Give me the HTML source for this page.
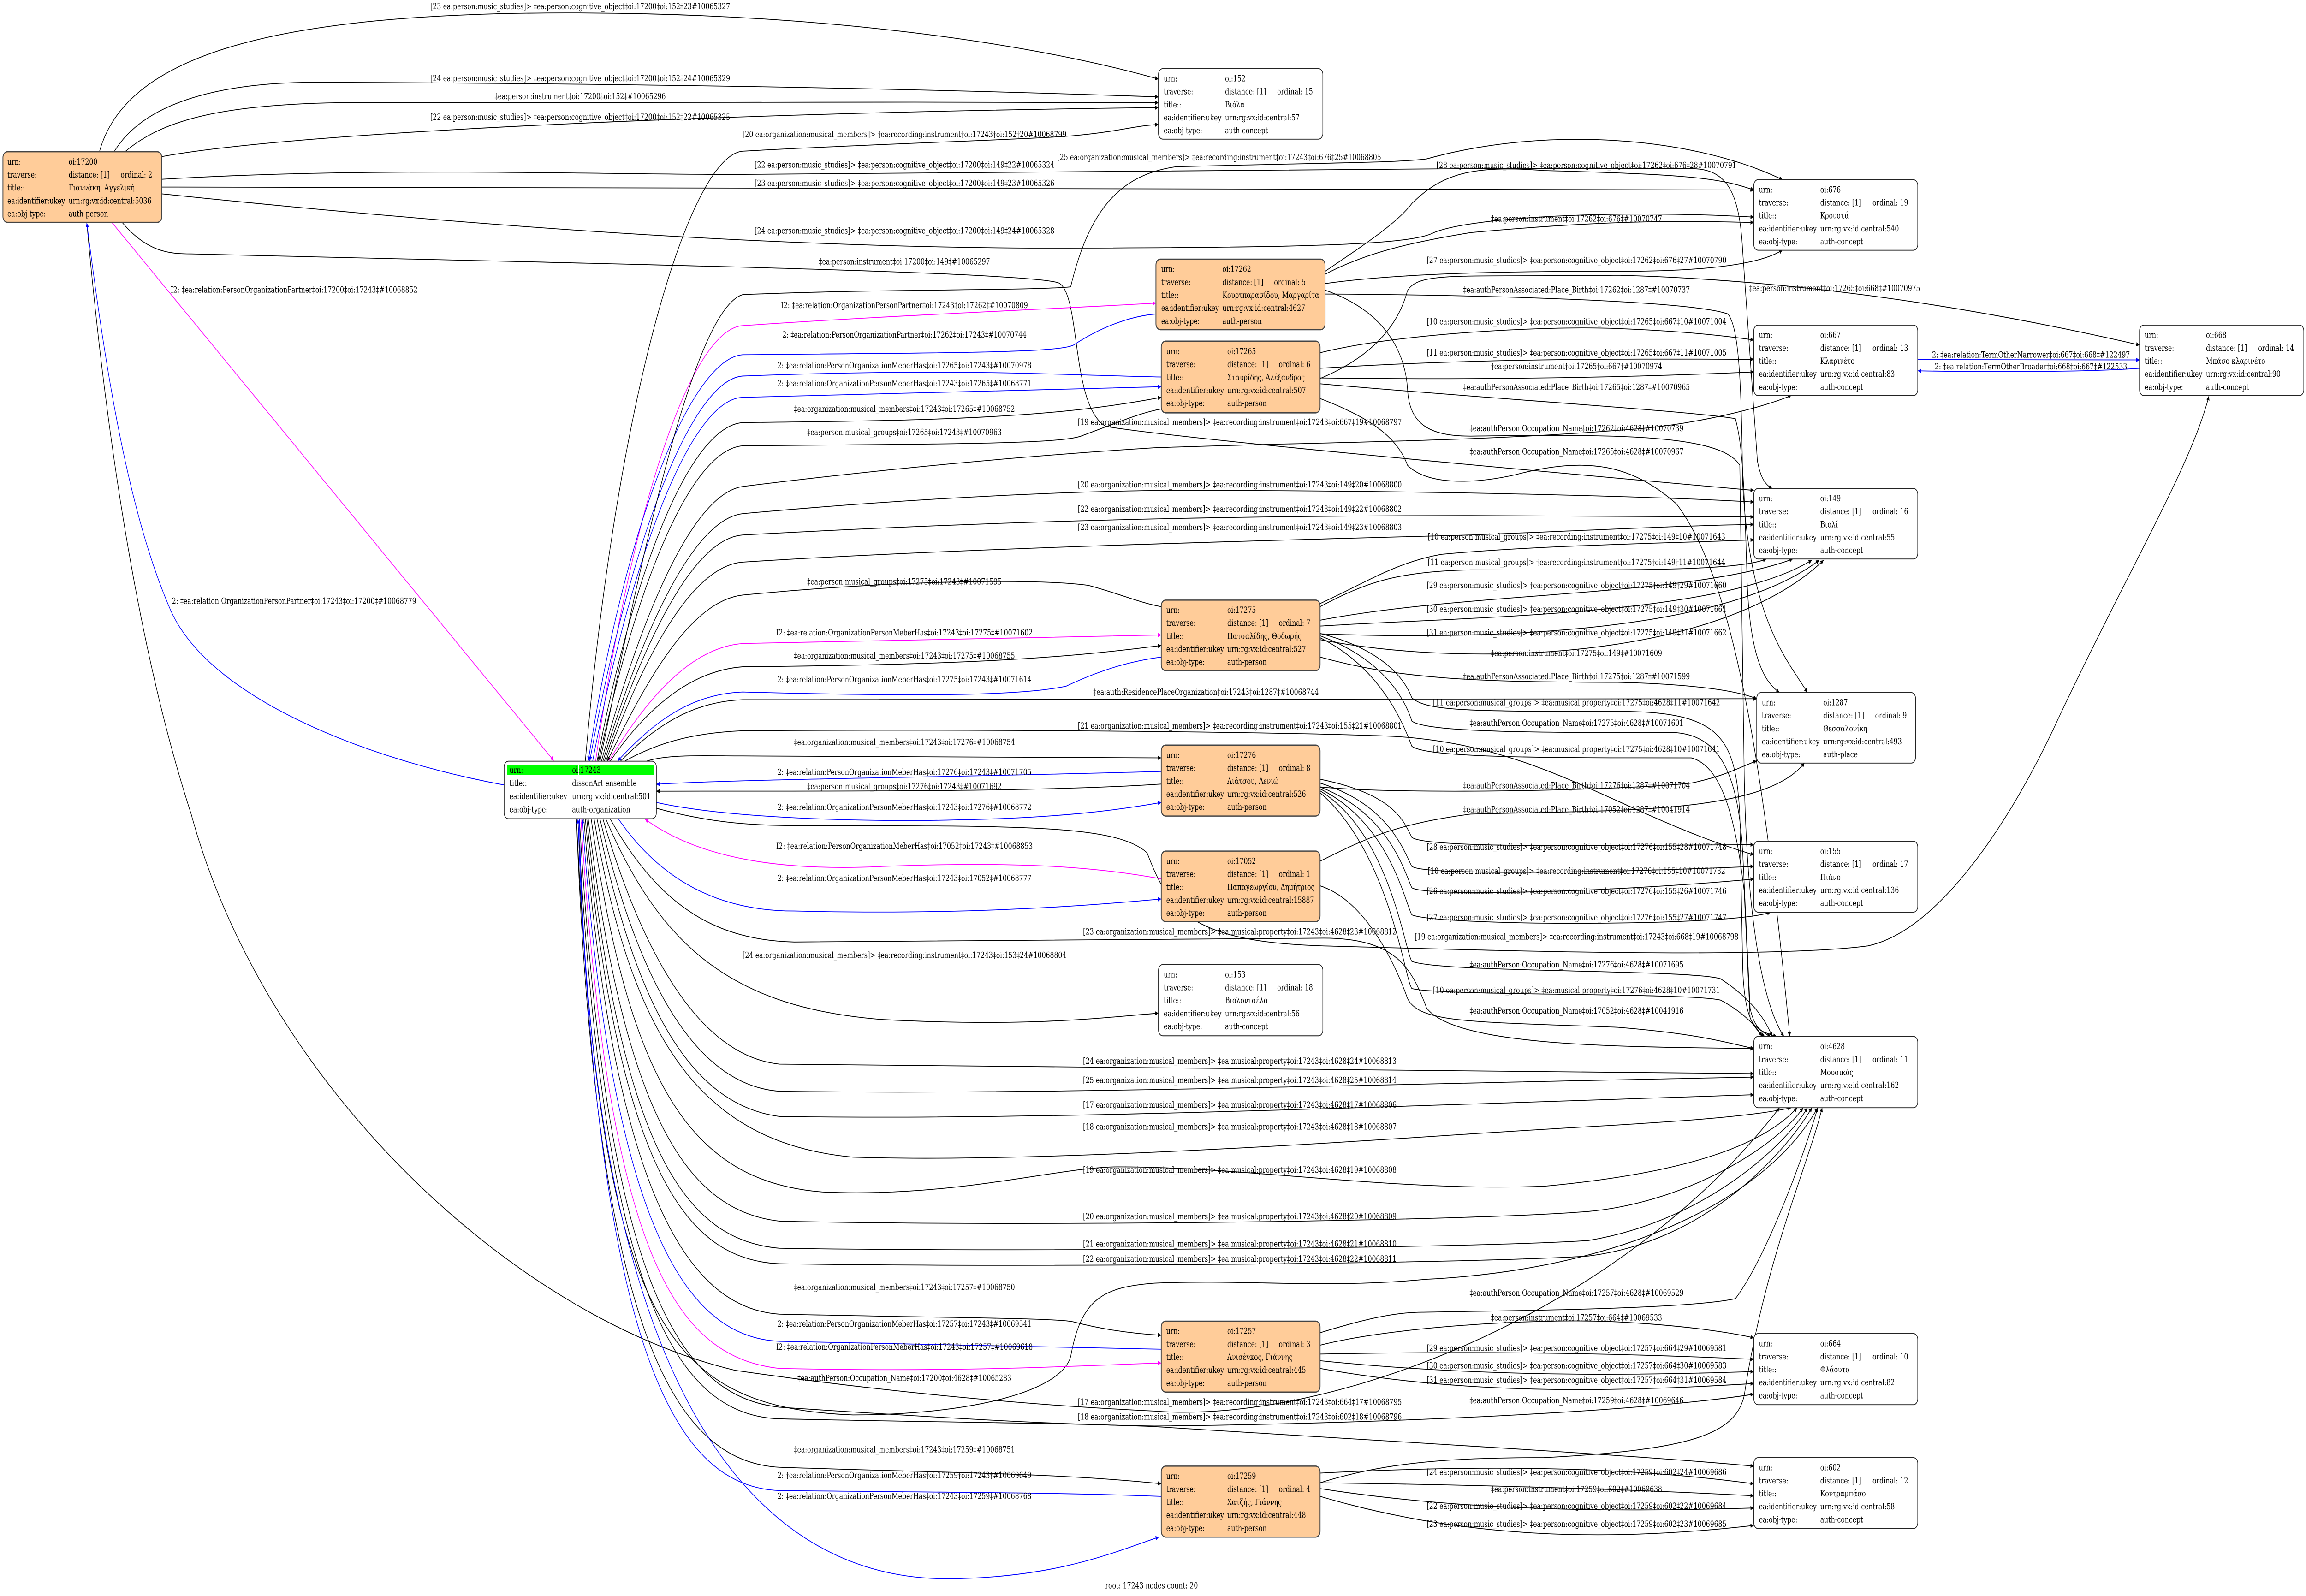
<!DOCTYPE html>
<html><head><meta charset="utf-8"><style>
html,body{margin:0;padding:0;background:#fff;width:100%;height:100%;overflow:hidden}
svg{display:block;position:fixed;left:0;top:0;width:100%;height:100%}
text{font-family:"DejaVu Serif","Liberation Serif",serif;font-size:44px;fill:#000}
.l text{text-anchor:middle}
path{fill:none;stroke:#000;stroke-width:0.42}
.b{stroke:#0000ff}
.m{stroke:#ff00ff}
.o{fill:#ffcc99;stroke:#444;stroke-width:0.6}
.w{fill:#fff;stroke:#222;stroke-width:0.45}
</style></head><body>
<svg width="100%" height="100%" viewBox="0 0 1568 823.4" preserveAspectRatio="none" xmlns="http://www.w3.org/2000/svg">
<defs>
<marker id="k" viewBox="0 0 10 10" refX="10" refY="5" markerWidth="2.6" markerHeight="2.2" markerUnits="userSpaceOnUse" orient="auto-start-reverse"><path d="M0,0L10,5L0,10z" style="fill:#000;stroke:none"/></marker>
<marker id="bl" viewBox="0 0 10 10" refX="10" refY="5" markerWidth="2.6" markerHeight="2.2" markerUnits="userSpaceOnUse" orient="auto-start-reverse"><path d="M0,0L10,5L0,10z" style="fill:#0000ff;stroke:none"/></marker>
<marker id="mg" viewBox="0 0 10 10" refX="10" refY="5" markerWidth="2.6" markerHeight="2.2" markerUnits="userSpaceOnUse" orient="auto-start-reverse"><path d="M0,0L10,5L0,10z" style="fill:#ff00ff;stroke:none"/></marker>
</defs>
<rect width="1568" height="823.4" fill="#fff"/>

<g marker-end="url(#k)">
<path d="M67.6,78.3 C85,30 180,6 394,6.7 C560,7 700,22 787.7,40.8"/>
<path d="M77.6,78.3 C100,50 160,42 220,42.5 C400,43 600,45 787.7,50"/>
<path d="M85,78.3 C110,62 150,54 230,53 C400,52.5 600,52.5 787.7,53"/>
<path d="M110,80.8 C200,68 500,58 787.7,55.5"/>
<path d="M110,92.5 C250,86 400,90 500,90 C650,89 800,87 1000,87 L1150,87 C1175,87 1183,100 1185,130 L1195,238 C1197,246 1200,250 1205,252"/>
<path d="M110,96.5 L1192.5,98"/>
<path d="M110,100 C300,115 500,127 700,128 C900,128 960,126 975,120 C1000,112 1100,108 1192.5,112"/>
<path d="M83,114.7 C100,130 115,131 130,131 C400,136 700,140 720,146 C735,152 728,210 752,220 C800,226 1000,240 1192.5,253"/>
<path d="M59,114.7 C75,250 100,350 130,420 C180,560 350,680 500,707 C600,718 700,725 785,728 C900,735 1100,680 1210,571.5"/>
</g>
<path class="m" marker-end="url(#mg)" d="M76,114.7 L376.5,392.4"/>
<path class="b" marker-end="url(#bl)" d="M343,405 C250,392 140,360 115,313 C85,260 70,180 59,115"/>

<path marker-end="url(#k)" d="M398,392.6 C420,200 470,80 505,78 C600,74 700,72 730,70 C760,68 770,65 787.7,64.2"/>
<path class="m" marker-end="url(#mg)" d="M405,392.6 C430,260 470,170 505,168 C600,163 700,160 786,156.4"/>
<path class="b" marker-start="url(#bl)" d="M400,392.6 C425,270 470,185 505,183 C650,182 720,182 730,178 C750,168 770,163 786,162"/>
<path class="b" marker-start="url(#bl)" d="M401,392.6 C428,280 470,196 505,194 C650,190 700,193 789.6,194.5"/>
<path class="b" marker-end="url(#bl)" d="M403,392.6 C430,285 470,206 505,205 C650,202 720,200 789.6,199.5"/>
<path marker-end="url(#k)" d="M406,392.6 C432,290 470,220 505,218 C650,217 720,215 789.6,205"/>
<path marker-start="url(#k)" d="M407,392.6 C433,300 470,232 505,230 C650,229 720,229 735,225 C760,218 775,213 789.6,211"/>
<g marker-end="url(#k)">
<path d="M408,392.6 C433,300 470,160 505,152 C600,149 700,150 728,148 C740,110 760,90 800,86 C900,84 950,84 970,82 C1050,65 1150,70 1212,92.7"/>
<path d="M409,392.6 C435,320 470,255 505,251 C600,242 700,235 785,231 C900,228 1000,228 1100,222 C1150,220 1200,210 1218,204"/>
<path d="M410,392.6 C435,330 470,268 505,265 C650,255 760,253 800,253 C1000,253 1150,257 1192.5,259"/>
<path d="M411,392.6 C436,335 470,278 505,276 C650,270 800,266 1000,266 L1192.5,266.7"/>
<path d="M412,392.6 C437,340 470,292 505,290 C650,283 850,279 1000,276 C1100,273 1150,271 1192.5,270.6"/>
</g>
<path marker-start="url(#k)" d="M413,392.6 C440,350 470,310 505,307 C600,300 700,298 740,302 C760,306 775,311 789.6,313"/>
<path class="m" marker-end="url(#mg)" d="M414,392.6 C440,360 470,334 505,332 C650,330 720,329 789.6,327.6"/>
<path marker-end="url(#k)" d="M415,392.6 C440,365 470,346 505,344 C650,343 720,340 789.6,333"/>
<path class="b" marker-start="url(#bl)" d="M420,392.6 C445,372 470,358 505,357 C650,360 700,358 725,354 C750,345 770,341 789.6,339"/>
<path marker-end="url(#k)" d="M422,392.6 C445,375 470,362 505,361 C700,360 900,360 1194.5,360.5"/>
<path marker-end="url(#k)" d="M425,392.6 C450,382 475,378 505,377 C700,376 900,378 950,380 C1050,385 1100,420 1192.5,441"/>
<path marker-end="url(#k)" d="M440,392.6 C455,389 480,390 505,390 C650,390 720,390 789.6,391"/>
<path class="b" marker-start="url(#bl)" d="M446.3,404.6 C500,402 650,401 789.6,398"/>
<path marker-start="url(#k)" d="M446.3,408.2 C550,408 700,409 789.6,404.5"/>
<path class="b" marker-end="url(#bl)" d="M446.3,414 C500,423 600,424 650,423 C720,422 760,418 789.6,414"/>
<path marker-end="url(#k)" d="M446.3,417 C490,426 520,426 560,426 C700,426 760,426 780,440 C795,470 810,486 900,488 C1000,490 1200,495 1270,488 C1320,480 1370,420 1400,370 C1450,290 1490,240 1502,204.3"/>

<path class="m" marker-start="url(#mg)" d="M438.6,422.6 C470,440 520,450 600,447 C700,444 750,448 789.6,453.4"/>
<path class="b" marker-end="url(#bl)" d="M420.6,422.6 C450,455 490,470 540,470 C650,472 730,468 789.6,463.8"/>
<g marker-end="url(#k)">
<path d="M415,422.6 C450,470 490,485 540,486 C700,484 800,484 900,484 C950,484 960,500 970,520 C990,540 1100,540 1192.5,541"/>
<path d="M412,422.6 C450,490 500,520 600,526 C700,530 750,525 787.7,522.7"/>
<path d="M410,422.6 C440,500 480,545 530,549 C700,552 900,552 1192.5,553.9"/>
<path d="M408,422.6 C435,510 475,560 530,563 C700,565 900,560 1192.5,555.7"/>
<path d="M406,422.6 C432,520 470,570 530,576 C700,578 900,572 1192.5,564.8"/>
<path d="M404,422.6 C430,540 480,590 580,597 C700,600 900,590 1000,585 C1100,580 1180,578 1218,571.5"/>
<path d="M402,422.6 C428,560 470,610 560,615 C650,618 720,602 760,602 C850,602 950,615 1050,612 C1150,605 1200,590 1222,571.5"/>
<path d="M400,422.6 C425,580 470,625 530,630 C700,633 1000,630 1080,625 C1150,620 1210,590 1226,571.5"/>
<path d="M399,422.6 C423,600 470,640 530,644 C700,646 1000,644 1080,640 C1160,630 1215,590 1229,571.5"/>
<path d="M398,422.6 C421,610 470,650 530,652 C700,654 1000,652 1080,648 C1165,640 1218,590 1232,571.5"/>
<path d="M397,422.6 C418,620 470,675 530,678 C650,680 720,680 730,682 C750,686 770,688 789.6,688.9"/>
<path d="M394,422.6 C412,660 460,720 530,726 C650,732 720,735 785,735.7 C900,735 1100,730 1192.5,719.3"/>
<path d="M393,422.6 C410,670 460,730 530,732 C650,734 720,734 785,736 C950,744 1100,750 1192.5,756.4"/>
<path d="M392,422.6 C408,680 450,726 580,730 C650,730 720,720 728,700 C735,670 750,664 785,662 C850,660 900,665 970,660 C1100,655 1200,620 1236,571.5"/>
<path d="M392,422.6 C405,690 460,754 530,757 C650,760 720,760 789.6,765.5"/>
</g>
<path class="b" marker-start="url(#bl)" d="M396,422.6 C416,640 470,690 530,692 C650,694 720,695 789.6,696.1"/>
<path class="m" marker-end="url(#mg)" d="M395,422.6 C414,650 460,700 530,706 C650,708 720,705 789.6,703.2"/>
<path class="b" marker-start="url(#bl)" d="M393,422.6 C406,700 460,767 530,769 C650,770 720,770 789.6,772"/>
<path class="b" marker-end="url(#bl)" d="M394,422.6 C400,700 500,815 645,814.5 C720,814 760,800 788,793"/>

<g marker-end="url(#k)">
<path d="M901,140 C930,125 950,115 960,105 C980,90 1000,85 1050,88 C1150,90 1170,92 1192.5,98"/>
<path d="M901,141.5 C930,130 960,125 1000,120 C1100,113 1150,114 1192.5,114.8"/>
<path d="M901,146.3 C960,140 1050,140 1100,140 C1170,140 1200,135 1212,129"/>
<path d="M901,151.7 C1000,152 1150,155 1175,162 C1183,170 1184,200 1185,250 C1190,320 1215,340 1229,357.3"/>
<path d="M897.6,195.3 C930,185 950,170 957,150 C965,140 990,143 1100,142 C1250,145 1380,165 1454.8,178"/>
<path d="M901,149.7 C940,160 955,180 957,200 C958,218 970,225 1000,225 C1100,224 1170,224 1183,240 L1186,400 C1188,480 1200,520 1213,534.7"/>
<path d="M897.6,205.6 C930,215 950,225 957,240 C970,250 1000,250 1030,245 C1080,235 1110,240 1140,260 C1180,300 1200,400 1217,534.7"/>
<path d="M897.6,182 C950,172 1050,168 1100,169.5 C1150,171 1180,174 1192.5,175.4"/>
<path d="M897.6,190 C1000,185 1100,185 1192.5,185.4"/>
<path d="M897.6,195 C1000,196 1100,195 1192.5,191.9"/>
<path d="M897.6,198 C1000,205 1150,212 1180,216 C1185,230 1186,250 1188,300 C1190,340 1200,352 1210,357.3"/>
<path d="M897.6,311.4 C930,300 950,290 980,286 C1050,281 1150,280 1192.5,278.5"/>
<path d="M897.6,313 C930,300 950,295 1000,294 C1100,294 1180,295 1201,288.4"/>
<path d="M897.6,320 C1000,305 1150,308 1219,288.4"/>
<path d="M897.6,323 C1000,318 1170,318 1232,289"/>
<path d="M897.6,327 C1000,330 1170,328 1237,289"/>
<path d="M897.6,330 C1000,345 1170,340 1240,289"/>
<path d="M897.6,339 C950,350 1000,352 1100,352 C1150,353 1180,356 1194.5,360.5"/>
<path d="M897.6,326.8 C940,335 955,350 960,360 C970,367 1000,367 1100,367 C1170,367 1180,380 1183,420 L1185,500 C1186,520 1190,530 1200,534.7"/>
<path d="M897.6,328 C940,340 955,360 960,372 C970,378 1050,378 1140,378 C1170,380 1182,400 1185,440 L1190,520 C1192,528 1196,532 1204,534.7"/>
<path d="M897.6,329 C940,345 955,375 960,385 C970,391 1050,391 1150,391 C1170,395 1180,420 1186,460 L1190,525 C1193,531 1200,533 1208,534.7"/>
<path d="M897.6,406 C950,410 1100,408 1150,404 C1175,400 1185,395 1194.5,392.6"/>
<path d="M897.6,444.3 C930,432 950,425 1000,420 C1100,418 1200,420 1227,393.6"/>
<path d="M897.6,402 C950,410 955,425 960,432 C970,438 1100,436 1192.5,435.8"/>
<path d="M897.6,404 C945,415 955,440 960,447 C970,452 1100,450 1192.5,447"/>
<path d="M897.6,406 C945,420 955,450 960,458 C970,463 1100,460 1192.5,453.5"/>
<path d="M897.6,407 C945,425 955,465 960,472 C980,478 1180,478 1203.8,470.6"/>
<path d="M897.6,408 C945,430 955,490 960,496 C980,502 1150,500 1170,505 C1190,515 1200,525 1205,534.7"/>
<path d="M897.6,409 C945,440 955,505 960,510 C980,514 1150,512 1170,516 C1185,522 1195,530 1198,534.7"/>
<path d="M897.6,457 C930,465 950,500 957,515 C965,528 1000,527 1100,530 C1150,533 1170,537 1192.5,541"/>
<path d="M897.6,687.6 C930,680 950,677 967,677 C1050,676 1150,675 1180,670 C1200,650 1225,600 1236,571.5"/>
<path d="M897.6,694 C950,684 1050,680 1100,682 C1150,684 1180,688 1192.5,690.2"/>
<path d="M897.6,698.6 C1000,697 1100,698 1192.5,701.3"/>
<path d="M897.6,702 C1000,710 1100,710 1192.5,707.6"/>
<path d="M897.6,706 C1000,720 1100,718 1192.5,713.8"/>
<path d="M897.6,765 C940,755 980,752 1050,752 C1150,748 1180,740 1186,720 C1200,650 1230,600 1239,571.5"/>
<path d="M897.6,760 C1000,756 1100,756 1192.5,765.5"/>
<path d="M897.6,765 C1000,766 1100,768 1192.5,771.7"/>
<path d="M897.6,768 C1000,780 1100,780 1192.5,778"/>
<path d="M897.6,772 C1000,795 1100,795 1192.5,787"/>
</g>
<path class="b" marker-end="url(#bl)" d="M1304,185.5 L1454.8,185.7"/>
<path class="b" marker-end="url(#bl)" d="M1454.8,190 C1420,192 1350,192 1304,191.3"/>

<rect class="o" x="2" y="78.3" width="108" height="36.4" rx="3"/>
<rect class="w" x="787.7" y="35.4" width="111.8" height="36.4" rx="3"/>
<rect class="o" x="786" y="133.7" width="115" height="36.4" rx="3"/>
<rect class="o" x="789.6" y="176" width="108" height="37" rx="3"/>
<rect class="w" x="1192.5" y="92.7" width="111.5" height="36.4" rx="3"/>
<rect class="w" x="1192.5" y="167.7" width="111.5" height="36.4" rx="3"/>
<rect class="w" x="1454.8" y="167.7" width="111.7" height="36.4" rx="3"/>
<rect class="w" x="1192.5" y="252" width="111.5" height="36.4" rx="3"/>
<rect class="o" x="789.6" y="309.6" width="108" height="36.4" rx="3"/>
<rect class="w" x="1194.5" y="357.3" width="108" height="36.4" rx="3"/>
<rect class="o" x="789.6" y="384.4" width="108" height="36.6" rx="3"/>
<rect class="w" x="342.8" y="392.7" width="103.5" height="29.7" rx="3"/>
<rect x="344.8" y="394.5" width="48.2" height="5.2" fill="#00ff00"/>
<rect x="393.8" y="394.5" width="50.8" height="5.2" fill="#00ff00"/>
<rect class="o" x="789.6" y="439.1" width="108" height="36.4" rx="3"/>
<rect class="w" x="1192.5" y="434" width="111.5" height="36.6" rx="3"/>
<rect class="w" x="787.7" y="497.6" width="111.8" height="36.8" rx="3"/>
<rect class="w" x="1192.5" y="534.7" width="111.5" height="36.8" rx="3"/>
<rect class="o" x="789.6" y="681.6" width="108" height="36.6" rx="3"/>
<rect class="w" x="1192.5" y="688" width="111.5" height="36.7" rx="3"/>
<rect class="o" x="789.6" y="756.4" width="108" height="36.6" rx="3"/>
<rect class="w" x="1192.5" y="752" width="111.5" height="36.6" rx="3"/>

<g transform="scale(0.1)">
<g class="l">
<text x="3945" y="48">[23 ea:person:music_studies]&gt; ‡ea:person:cognitive_object‡oi:17200‡oi:152‡23#10065327</text>
<text x="3945" y="419">[24 ea:person:music_studies]&gt; ‡ea:person:cognitive_object‡oi:17200‡oi:152‡24#10065329</text>
<text x="3945" y="511">‡ea:person:instrument‡oi:17200‡oi:152‡#10065296</text>
<text x="3945" y="618">[22 ea:person:music_studies]&gt; ‡ea:person:cognitive_object‡oi:17200‡oi:152‡22#10065325</text>
<text x="6150" y="708">[20 ea:organization:musical_members]&gt; ‡ea:recording:instrument‡oi:17243‡oi:152‡20#10068799</text>
<text x="8290" y="825">[25 ea:organization:musical_members]&gt; ‡ea:recording:instrument‡oi:17243‡oi:676‡25#10068805</text>
<text x="6150" y="865">[22 ea:person:music_studies]&gt; ‡ea:person:cognitive_object‡oi:17200‡oi:149‡22#10065324</text>
<text x="6150" y="960">[23 ea:person:music_studies]&gt; ‡ea:person:cognitive_object‡oi:17200‡oi:149‡23#10065326</text>
<text x="6150" y="1205">[24 ea:person:music_studies]&gt; ‡ea:person:cognitive_object‡oi:17200‡oi:149‡24#10065328</text>
<text x="6150" y="1365">‡ea:person:instrument‡oi:17200‡oi:149‡#10065297</text>
<text x="2000" y="1510">I2: ‡ea:relation:PersonOrganizationPartner‡oi:17200‡oi:17243‡#10068852</text>
<text x="2000" y="3115">2: ‡ea:relation:OrganizationPersonPartner‡oi:17243‡oi:17200‡#10068779</text>
<text x="6150" y="1589">I2: ‡ea:relation:OrganizationPersonPartner‡oi:17243‡oi:17262‡#10070809</text>
<text x="6150" y="1741">2: ‡ea:relation:PersonOrganizationPartner‡oi:17262‡oi:17243‡#10070744</text>
<text x="6150" y="1900">2: ‡ea:relation:PersonOrganizationMeberHas‡oi:17265‡oi:17243‡#10070978</text>
<text x="6150" y="1993">2: ‡ea:relation:OrganizationPersonMeberHas‡oi:17243‡oi:17265‡#10068771</text>
<text x="6150" y="2125">‡ea:organization:musical_members‡oi:17243‡oi:17265‡#10068752</text>
<text x="6150" y="2245">‡ea:person:musical_groups‡oi:17265‡oi:17243‡#10070963</text>
<text x="8430" y="2192">[19 ea:organization:musical_members]&gt; ‡ea:recording:instrument‡oi:17243‡oi:667‡19#10068797</text>
<text x="8430" y="2515">[20 ea:organization:musical_members]&gt; ‡ea:recording:instrument‡oi:17243‡oi:149‡20#10068800</text>
<text x="8430" y="2641">[22 ea:organization:musical_members]&gt; ‡ea:recording:instrument‡oi:17243‡oi:149‡22#10068802</text>
<text x="8430" y="2735">[23 ea:organization:musical_members]&gt; ‡ea:recording:instrument‡oi:17243‡oi:149‡23#10068803</text>
<text x="6150" y="3015">‡ea:person:musical_groups‡oi:17275‡oi:17243‡#10071595</text>
<text x="6150" y="3278">I2: ‡ea:relation:OrganizationPersonMeberHas‡oi:17243‡oi:17275‡#10071602</text>
<text x="6150" y="3397">‡ea:organization:musical_members‡oi:17243‡oi:17275‡#10068755</text>
<text x="6150" y="3520">2: ‡ea:relation:PersonOrganizationMeberHas‡oi:17275‡oi:17243‡#10071614</text>
<text x="8200" y="3585">‡ea:auth:ResidencePlaceOrganization‡oi:17243‡oi:1287‡#10068744</text>
<text x="8430" y="3759">[21 ea:organization:musical_members]&gt; ‡ea:recording:instrument‡oi:17243‡oi:155‡21#10068801</text>
<text x="6150" y="3844">‡ea:organization:musical_members‡oi:17243‡oi:17276‡#10068754</text>
<text x="6150" y="3998">2: ‡ea:relation:PersonOrganizationMeberHas‡oi:17276‡oi:17243‡#10071705</text>
<text x="6150" y="4072">‡ea:person:musical_groups‡oi:17276‡oi:17243‡#10071692</text>
<text x="6150" y="4179">2: ‡ea:relation:OrganizationPersonMeberHas‡oi:17243‡oi:17276‡#10068772</text>
<text x="6150" y="4380">I2: ‡ea:relation:PersonOrganizationMeberHas‡oi:17052‡oi:17243‡#10068853</text>
<text x="6150" y="4545">2: ‡ea:relation:OrganizationPersonMeberHas‡oi:17243‡oi:17052‡#10068777</text>
<text x="8430" y="4821">[23 ea:organization:musical_members]&gt; ‡ea:musical:property‡oi:17243‡oi:4628‡23#10068812</text>
<text x="10720" y="4848">[19 ea:organization:musical_members]&gt; ‡ea:recording:instrument‡oi:17243‡oi:668‡19#10068798</text>
<text x="6150" y="4943">[24 ea:organization:musical_members]&gt; ‡ea:recording:instrument‡oi:17243‡oi:153‡24#10068804</text>
<text x="8430" y="5489">[24 ea:organization:musical_members]&gt; ‡ea:musical:property‡oi:17243‡oi:4628‡24#10068813</text>
<text x="8430" y="5587">[25 ea:organization:musical_members]&gt; ‡ea:musical:property‡oi:17243‡oi:4628‡25#10068814</text>
<text x="8430" y="5715">[17 ea:organization:musical_members]&gt; ‡ea:musical:property‡oi:17243‡oi:4628‡17#10068806</text>
<text x="8430" y="5828">[18 ea:organization:musical_members]&gt; ‡ea:musical:property‡oi:17243‡oi:4628‡18#10068807</text>
<text x="8430" y="6050">[19 ea:organization:musical_members]&gt; ‡ea:musical:property‡oi:17243‡oi:4628‡19#10068808</text>
<text x="8430" y="6290">[20 ea:organization:musical_members]&gt; ‡ea:musical:property‡oi:17243‡oi:4628‡20#10068809</text>
<text x="8430" y="6432">[21 ea:organization:musical_members]&gt; ‡ea:musical:property‡oi:17243‡oi:4628‡21#10068810</text>
<text x="8430" y="6509">[22 ea:organization:musical_members]&gt; ‡ea:musical:property‡oi:17243‡oi:4628‡22#10068811</text>
<text x="6150" y="6656">‡ea:organization:musical_members‡oi:17243‡oi:17257‡#10068750</text>
<text x="6150" y="6845">2: ‡ea:relation:PersonOrganizationMeberHas‡oi:17257‡oi:17243‡#10069541</text>
<text x="6150" y="6964">I2: ‡ea:relation:OrganizationPersonMeberHas‡oi:17243‡oi:17257‡#10069618</text>
<text x="6150" y="7124">‡ea:authPerson:Occupation_Name‡oi:17200‡oi:4628‡#10065283</text>
<text x="8430" y="7248">[17 ea:organization:musical_members]&gt; ‡ea:recording:instrument‡oi:17243‡oi:664‡17#10068795</text>
<text x="8430" y="7324">[18 ea:organization:musical_members]&gt; ‡ea:recording:instrument‡oi:17243‡oi:602‡18#10068796</text>
<text x="6150" y="7493">‡ea:organization:musical_members‡oi:17243‡oi:17259‡#10068751</text>
<text x="6150" y="7626">2: ‡ea:relation:PersonOrganizationMeberHas‡oi:17259‡oi:17243‡#10069649</text>
<text x="6150" y="7733">2: ‡ea:relation:OrganizationPersonMeberHas‡oi:17243‡oi:17259‡#10068768</text>

<text x="10787" y="867">[28 ea:person:music_studies]&gt; ‡ea:person:cognitive_object‡oi:17262‡oi:676‡28#10070791</text>
<text x="10720" y="1143">‡ea:person:instrument‡oi:17262‡oi:676‡#10070747</text>
<text x="10720" y="1357">[27 ea:person:music_studies]&gt; ‡ea:person:cognitive_object‡oi:17262‡oi:676‡27#10070790</text>
<text x="12475" y="1501">‡ea:person:instrument‡oi:17265‡oi:668‡#10070975</text>
<text x="10720" y="1509">‡ea:authPersonAssociated:Place_Birth‡oi:17262‡oi:1287‡#10070737</text>
<text x="10720" y="1674">[10 ea:person:music_studies]&gt; ‡ea:person:cognitive_object‡oi:17265‡oi:667‡10#10071004</text>
<text x="10720" y="1834">[11 ea:person:music_studies]&gt; ‡ea:person:cognitive_object‡oi:17265‡oi:667‡11#10071005</text>
<text x="10720" y="1904">‡ea:person:instrument‡oi:17265‡oi:667‡#10070974</text>
<text x="10720" y="2012">‡ea:authPersonAssociated:Place_Birth‡oi:17265‡oi:1287‡#10070965</text>
<text x="10720" y="2225">‡ea:authPerson:Occupation_Name‡oi:17262‡oi:4628‡#10070739</text>
<text x="10720" y="2345">‡ea:authPerson:Occupation_Name‡oi:17265‡oi:4628‡#10070967</text>
<text x="10720" y="2783">[10 ea:person:musical_groups]&gt; ‡ea:recording:instrument‡oi:17275‡oi:149‡10#10071643</text>
<text x="10720" y="2915">[11 ea:person:musical_groups]&gt; ‡ea:recording:instrument‡oi:17275‡oi:149‡11#10071644</text>
<text x="10720" y="3035">[29 ea:person:music_studies]&gt; ‡ea:person:cognitive_object‡oi:17275‡oi:149‡29#10071660</text>
<text x="10720" y="3157">[30 ea:person:music_studies]&gt; ‡ea:person:cognitive_object‡oi:17275‡oi:149‡30#10071661</text>
<text x="10720" y="3278">[31 ea:person:music_studies]&gt; ‡ea:person:cognitive_object‡oi:17275‡oi:149‡31#10071662</text>
<text x="10720" y="3384">‡ea:person:instrument‡oi:17275‡oi:149‡#10071609</text>
<text x="10720" y="3505">‡ea:authPersonAssociated:Place_Birth‡oi:17275‡oi:1287‡#10071599</text>
<text x="10720" y="3639">[11 ea:person:musical_groups]&gt; ‡ea:musical:property‡oi:17275‡oi:4628‡11#10071642</text>
<text x="10720" y="3745">‡ea:authPerson:Occupation_Name‡oi:17275‡oi:4628‡#10071601</text>
<text x="10720" y="3879">[10 ea:person:musical_groups]&gt; ‡ea:musical:property‡oi:17275‡oi:4628‡10#10071641</text>
<text x="10720" y="4067">‡ea:authPersonAssociated:Place_Birth‡oi:17276‡oi:1287‡#10071704</text>
<text x="10720" y="4191">‡ea:authPersonAssociated:Place_Birth‡oi:17052‡oi:1287‡#10041914</text>
<text x="10720" y="4385">[28 ea:person:music_studies]&gt; ‡ea:person:cognitive_object‡oi:17276‡oi:155‡28#10071748</text>
<text x="10720" y="4508">[10 ea:person:musical_groups]&gt; ‡ea:recording:instrument‡oi:17276‡oi:155‡10#10071732</text>
<text x="10720" y="4612">[26 ea:person:music_studies]&gt; ‡ea:person:cognitive_object‡oi:17276‡oi:155‡26#10071746</text>
<text x="10720" y="4747">[27 ea:person:music_studies]&gt; ‡ea:person:cognitive_object‡oi:17276‡oi:155‡27#10071747</text>
<text x="10720" y="4991">‡ea:authPerson:Occupation_Name‡oi:17276‡oi:4628‡#10071695</text>
<text x="10720" y="5123">[10 ea:person:musical_groups]&gt; ‡ea:musical:property‡oi:17276‡oi:4628‡10#10071731</text>
<text x="10720" y="5229">‡ea:authPerson:Occupation_Name‡oi:17052‡oi:4628‡#10041916</text>
<text x="10720" y="6685">‡ea:authPerson:Occupation_Name‡oi:17257‡oi:4628‡#10069529</text>
<text x="10720" y="6813">‡ea:person:instrument‡oi:17257‡oi:664‡#10069533</text>
<text x="10720" y="6969">[29 ea:person:music_studies]&gt; ‡ea:person:cognitive_object‡oi:17257‡oi:664‡29#10069581</text>
<text x="10720" y="7060">[30 ea:person:music_studies]&gt; ‡ea:person:cognitive_object‡oi:17257‡oi:664‡30#10069583</text>
<text x="10720" y="7135">[31 ea:person:music_studies]&gt; ‡ea:person:cognitive_object‡oi:17257‡oi:664‡31#10069584</text>
<text x="10720" y="7239">‡ea:authPerson:Occupation_Name‡oi:17259‡oi:4628‡#10069646</text>
<text x="10720" y="7610">[24 ea:person:music_studies]&gt; ‡ea:person:cognitive_object‡oi:17259‡oi:602‡24#10069686</text>
<text x="10720" y="7698">‡ea:person:instrument‡oi:17259‡oi:602‡#10069638</text>
<text x="10720" y="7784">[22 ea:person:music_studies]&gt; ‡ea:person:cognitive_object‡oi:17259‡oi:602‡22#10069684</text>
<text x="10720" y="7877">[23 ea:person:music_studies]&gt; ‡ea:person:cognitive_object‡oi:17259‡oi:602‡23#10069685</text>
<text x="13810" y="1845">2: ‡ea:relation:TermOtherNarrower‡oi:667‡oi:668‡#122497</text>
<text x="13810" y="1906">2: ‡ea:relation:TermOtherBroader‡oi:668‡oi:667‡#122533</text>
<text x="7830" y="8195">root: 17243 nodes count: 20</text>
</g>

<g transform="translate(20,783)"><text x="30" y="66">urn:</text><text x="447" y="66">oi:17200</text><text x="30" y="133">traverse:</text><text x="447" y="133">distance: [1]</text><text x="800" y="133">ordinal: 2</text><text x="30" y="200">title::</text><text x="447" y="200">Γιαννάκη, Αγγελική</text><text x="30" y="267">ea:identifier:ukey</text><text x="447" y="267">urn:rg:vx:id:central:5036</text><text x="30" y="334">ea:obj-type:</text><text x="447" y="334">auth-person</text></g>

<g transform="translate(7877,354)"><text x="36" y="66">urn:</text><text x="453" y="66">oi:152</text><text x="36" y="133">traverse:</text><text x="453" y="133">distance: [1]</text><text x="807" y="133">ordinal: 15</text><text x="36" y="200">title::</text><text x="453" y="200">Βιόλα</text><text x="36" y="267">ea:identifier:ukey</text><text x="453" y="267">urn:rg:vx:id:central:57</text><text x="36" y="334">ea:obj-type:</text><text x="453" y="334">auth-concept</text></g>

<g transform="translate(7860,1337)"><text x="36" y="66">urn:</text><text x="452" y="66">oi:17262</text><text x="36" y="133">traverse:</text><text x="452" y="133">distance: [1]</text><text x="803" y="133">ordinal: 5</text><text x="36" y="200">title::</text><text x="452" y="200">Κουρτπαρασίδου, Μαργαρίτα</text><text x="36" y="267">ea:identifier:ukey</text><text x="452" y="267">urn:rg:vx:id:central:4627</text><text x="36" y="334">ea:obj-type:</text><text x="452" y="334">auth-person</text></g>

<g transform="translate(7896,1760)"><text x="34" y="67">urn:</text><text x="449" y="67">oi:17265</text><text x="34" y="134">traverse:</text><text x="449" y="134">distance: [1]</text><text x="799" y="134">ordinal: 6</text><text x="34" y="201">title::</text><text x="449" y="201">Σταυρίδης, Αλέξανδρος</text><text x="34" y="268">ea:identifier:ukey</text><text x="449" y="268">urn:rg:vx:id:central:507</text><text x="34" y="335">ea:obj-type:</text><text x="449" y="335">auth-person</text></g>

<g transform="translate(11925,927)"><text x="35" y="66">urn:</text><text x="452" y="66">oi:676</text><text x="35" y="133">traverse:</text><text x="452" y="133">distance: [1]</text><text x="807" y="133">ordinal: 19</text><text x="35" y="200">title::</text><text x="452" y="200">Κρουστά</text><text x="35" y="267">ea:identifier:ukey</text><text x="452" y="267">urn:rg:vx:id:central:540</text><text x="35" y="334">ea:obj-type:</text><text x="452" y="334">auth-concept</text></g>

<g transform="translate(11925,1677)"><text x="35" y="66">urn:</text><text x="452" y="66">oi:667</text><text x="35" y="133">traverse:</text><text x="452" y="133">distance: [1]</text><text x="807" y="133">ordinal: 13</text><text x="35" y="200">title::</text><text x="452" y="200">Κλαρινέτο</text><text x="35" y="267">ea:identifier:ukey</text><text x="452" y="267">urn:rg:vx:id:central:83</text><text x="35" y="334">ea:obj-type:</text><text x="452" y="334">auth-concept</text></g>

<g transform="translate(14548,1677)"><text x="35" y="66">urn:</text><text x="452" y="66">oi:668</text><text x="35" y="133">traverse:</text><text x="452" y="133">distance: [1]</text><text x="807" y="133">ordinal: 14</text><text x="35" y="200">title::</text><text x="452" y="200">Μπάσο κλαρινέτο</text><text x="35" y="267">ea:identifier:ukey</text><text x="452" y="267">urn:rg:vx:id:central:90</text><text x="35" y="334">ea:obj-type:</text><text x="452" y="334">auth-concept</text></g>

<g transform="translate(11925,2520)"><text x="35" y="66">urn:</text><text x="452" y="66">oi:149</text><text x="35" y="133">traverse:</text><text x="452" y="133">distance: [1]</text><text x="807" y="133">ordinal: 16</text><text x="35" y="200">title::</text><text x="452" y="200">Βιολί</text><text x="35" y="267">ea:identifier:ukey</text><text x="452" y="267">urn:rg:vx:id:central:55</text><text x="35" y="334">ea:obj-type:</text><text x="452" y="334">auth-concept</text></g>

<g transform="translate(7896,3096)"><text x="34" y="66">urn:</text><text x="449" y="66">oi:17275</text><text x="34" y="133">traverse:</text><text x="449" y="133">distance: [1]</text><text x="799" y="133">ordinal: 7</text><text x="34" y="200">title::</text><text x="449" y="200">Πατσαλίδης, Θοδωρής</text><text x="34" y="267">ea:identifier:ukey</text><text x="449" y="267">urn:rg:vx:id:central:527</text><text x="34" y="334">ea:obj-type:</text><text x="449" y="334">auth-person</text></g>

<g transform="translate(11945,3573)"><text x="35" y="66">urn:</text><text x="452" y="66">oi:1287</text><text x="35" y="133">traverse:</text><text x="452" y="133">distance: [1]</text><text x="805" y="133">ordinal: 9</text><text x="35" y="200">title::</text><text x="452" y="200">Θεσσαλονίκη</text><text x="35" y="267">ea:identifier:ukey</text><text x="452" y="267">urn:rg:vx:id:central:493</text><text x="35" y="334">ea:obj-type:</text><text x="452" y="334">auth-place</text></g>

<g transform="translate(7896,3844)"><text x="34" y="66">urn:</text><text x="449" y="66">oi:17276</text><text x="34" y="133">traverse:</text><text x="449" y="133">distance: [1]</text><text x="799" y="133">ordinal: 8</text><text x="34" y="200">title::</text><text x="449" y="200">Λιάτσου, Λενιώ</text><text x="34" y="267">ea:identifier:ukey</text><text x="449" y="267">urn:rg:vx:id:central:526</text><text x="34" y="334">ea:obj-type:</text><text x="449" y="334">auth-person</text></g>

<g transform="translate(3428,3927)"><text x="36" y="60">urn:</text><text x="462" y="60">oi:17243</text><text x="36" y="128">title::</text><text x="462" y="128">dissonArt ensemble</text><text x="36" y="196">ea:identifier:ukey</text><text x="462" y="196">urn:rg:vx:id:central:501</text><text x="36" y="264">ea:obj-type:</text><text x="462" y="264">auth-organization</text></g>

<g transform="translate(7896,4391)"><text x="34" y="66">urn:</text><text x="449" y="66">oi:17052</text><text x="34" y="133">traverse:</text><text x="449" y="133">distance: [1]</text><text x="799" y="133">ordinal: 1</text><text x="34" y="200">title::</text><text x="449" y="200">Παπαγεωργίου, Δημήτριος</text><text x="34" y="267">ea:identifier:ukey</text><text x="449" y="267">urn:rg:vx:id:central:15887</text><text x="34" y="334">ea:obj-type:</text><text x="449" y="334">auth-person</text></g>

<g transform="translate(11925,4340)"><text x="35" y="66">urn:</text><text x="452" y="66">oi:155</text><text x="35" y="133">traverse:</text><text x="452" y="133">distance: [1]</text><text x="807" y="133">ordinal: 17</text><text x="35" y="200">title::</text><text x="452" y="200">Πιάνο</text><text x="35" y="267">ea:identifier:ukey</text><text x="452" y="267">urn:rg:vx:id:central:136</text><text x="35" y="334">ea:obj-type:</text><text x="452" y="334">auth-concept</text></g>

<g transform="translate(7877,4976)"><text x="36" y="66">urn:</text><text x="453" y="66">oi:153</text><text x="36" y="133">traverse:</text><text x="453" y="133">distance: [1]</text><text x="807" y="133">ordinal: 18</text><text x="36" y="200">title::</text><text x="453" y="200">Βιολοντσέλο</text><text x="36" y="267">ea:identifier:ukey</text><text x="453" y="267">urn:rg:vx:id:central:56</text><text x="36" y="334">ea:obj-type:</text><text x="453" y="334">auth-concept</text></g>

<g transform="translate(11925,5347)"><text x="35" y="66">urn:</text><text x="452" y="66">oi:4628</text><text x="35" y="133">traverse:</text><text x="452" y="133">distance: [1]</text><text x="807" y="133">ordinal: 11</text><text x="35" y="200">title::</text><text x="452" y="200">Μουσικός</text><text x="35" y="267">ea:identifier:ukey</text><text x="452" y="267">urn:rg:vx:id:central:162</text><text x="35" y="334">ea:obj-type:</text><text x="452" y="334">auth-concept</text></g>

<g transform="translate(7896,6816)"><text x="34" y="66">urn:</text><text x="449" y="66">oi:17257</text><text x="34" y="133">traverse:</text><text x="449" y="133">distance: [1]</text><text x="799" y="133">ordinal: 3</text><text x="34" y="200">title::</text><text x="449" y="200">Ανισέγκος, Γιάννης</text><text x="34" y="267">ea:identifier:ukey</text><text x="449" y="267">urn:rg:vx:id:central:445</text><text x="34" y="334">ea:obj-type:</text><text x="449" y="334">auth-person</text></g>

<g transform="translate(11925,6880)"><text x="35" y="66">urn:</text><text x="452" y="66">oi:664</text><text x="35" y="133">traverse:</text><text x="452" y="133">distance: [1]</text><text x="807" y="133">ordinal: 10</text><text x="35" y="200">title::</text><text x="452" y="200">Φλάουτο</text><text x="35" y="267">ea:identifier:ukey</text><text x="452" y="267">urn:rg:vx:id:central:82</text><text x="35" y="334">ea:obj-type:</text><text x="452" y="334">auth-concept</text></g>

<g transform="translate(7896,7564)"><text x="34" y="66">urn:</text><text x="449" y="66">oi:17259</text><text x="34" y="133">traverse:</text><text x="449" y="133">distance: [1]</text><text x="799" y="133">ordinal: 4</text><text x="34" y="200">title::</text><text x="449" y="200">Χατζής, Γιάννης</text><text x="34" y="267">ea:identifier:ukey</text><text x="449" y="267">urn:rg:vx:id:central:448</text><text x="34" y="334">ea:obj-type:</text><text x="449" y="334">auth-person</text></g>

<g transform="translate(11925,7520)"><text x="35" y="66">urn:</text><text x="452" y="66">oi:602</text><text x="35" y="133">traverse:</text><text x="452" y="133">distance: [1]</text><text x="807" y="133">ordinal: 12</text><text x="35" y="200">title::</text><text x="452" y="200">Κοντραμπάσο</text><text x="35" y="267">ea:identifier:ukey</text><text x="452" y="267">urn:rg:vx:id:central:58</text><text x="35" y="334">ea:obj-type:</text><text x="452" y="334">auth-concept</text></g>
</g>
</svg>
</body></html>
